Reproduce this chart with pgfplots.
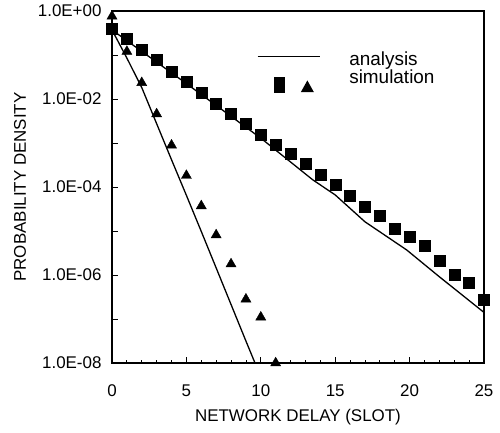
\documentclass[border=0pt]{standalone}
\usepackage{fontspec}
\setmainfont{Liberation Sans}
\usepackage{pgfplots}
\pgfplotsset{compat=1.18}
\begin{document}
\begin{tikzpicture}
\begin{axis}[
  scale only axis, width=372bp, height=352bp,
  ymode=log, xmin=0, xmax=25, ymin=1e-8, ymax=1,
  xtick={0,5,10,15,20,25}, minor x tick num=4,
  ytick={1,1e-1,1e-2,1e-3,1e-4,1e-5,1e-6,1e-7,1e-8},
  yticklabels={1.0E+00,,1.0E-02,,1.0E-04,,1.0E-06,,1.0E-08},
  tick align=inside, xtick pos=bottom, ytick pos=left,
  major tick length=6bp, minor tick length=3bp,
  axis line style={line width=1.6bp},
  every tick/.style={line width=0.8bp, black},
  /pgf/number format/assume math mode=true,
  tick label style={font=\fontsize{17}{19}\selectfont},
  label style={font=\fontsize{17}{19}\selectfont},
  xticklabel style={yshift=-18bp},
  yticklabel style={xshift=-7bp},
  xlabel={NETWORK DELAY (SLOT)}, ylabel={PROBABILITY DENSITY},
  xlabel style={at={(axis description cs:0.5,-0.153)}, anchor=center},
  ylabel style={at={(axis description cs:-0.247,0.5)}, anchor=center},
  clip=false,
  legend style={draw=none, fill=none, at={(axis description cs:0.3898,0.885)},
    anchor=north west, inner sep=0pt, outer sep=0pt, row sep=3bp, column sep=29bp,
    cells={anchor=base west}, nodes={inner sep=0pt, font=\fontsize{19}{21}\selectfont}},
]
\coordinate (sw) at (rel axis cs:0,0);
% analysis lines
\addplot[black, line width=1.3bp, forget plot] coordinates {
 (0,0.372) (1,0.0851) (2,0.0182) (3,2.75e-3) (4,4.17e-4) (5,6.46e-5)
 (6,9.77e-6) (7,1.45e-6) (8,2.14e-7) (9,3.16e-8) (9.61,1e-8)};
\addplot[black, line width=1.3bp, forget plot] coordinates {
 (0,0.372) (5,0.0224) (10,1.29e-3) (13.5,1.45e-4) (15,6.61e-5) (17,1.62e-5)
 (19.8,3.72e-6) (22,9.12e-7) (25,1.41e-7)};
% simulation
\addplot[only marks, mark=square*, mark size=5.5bp, black, forget plot] coordinates {
 (0,0.398) (1,0.229) (2,0.135) (3,0.0794) (4,0.0417) (5,0.0245) (6,0.0138)
 (7,0.00794) (8,0.00457) (9,0.00269) (10,0.00158) (11,0.000933) (12,0.000562)
 (13,0.000331) (14,0.000191) (15,0.000112) (16,6.31e-5) (17,3.55e-5) (18,2.19e-5)
 (19,1.15e-5) (20,7.24e-6) (21,4.68e-6) (22,2.14e-6) (23,1.0e-6) (24,6.76e-7) (25,2.69e-7)};
\addplot[only marks, mark=triangle*, mark size=5.8bp, black, forget plot] coordinates {
 (0,0.76) (1,0.120) (2,0.0234) (3,0.00457) (4,8.91e-4) (5,1.82e-4) (6,3.72e-5)
 (7,8.13e-6) (8,1.78e-6) (9,2.82e-7) (10,1.10e-7) (11,1e-8)};
\addlegendimage{black, legend image code/.code={
  \path[draw=none, fill=none] (0bp,0bp) rectangle (62bp,0.1bp);
  \draw[black, solid, line width=1.3bp] (0bp,9bp) -- (62bp,9bp);}}
\addlegendentry{analysis}
\addlegendimage{black, legend image code/.code={
  \path[draw=none, fill=none] (0bp,0bp) rectangle (62bp,0.1bp);
  \fill[black, draw=none] (16.2bp,-9.7bp) rectangle (27.2bp,6.3bp);
  \fill[black, draw=none] (43.2bp,-8.7bp) -- (56.2bp,-8.7bp) -- (49.7bp,3bp) -- cycle;}}
\addlegendentry{simulation}
\end{axis}
\pgfresetboundingbox
\path (sw) ++(-112bp,-70bp) rectangle ++(500bp,433bp);
\end{tikzpicture}
\end{document}
